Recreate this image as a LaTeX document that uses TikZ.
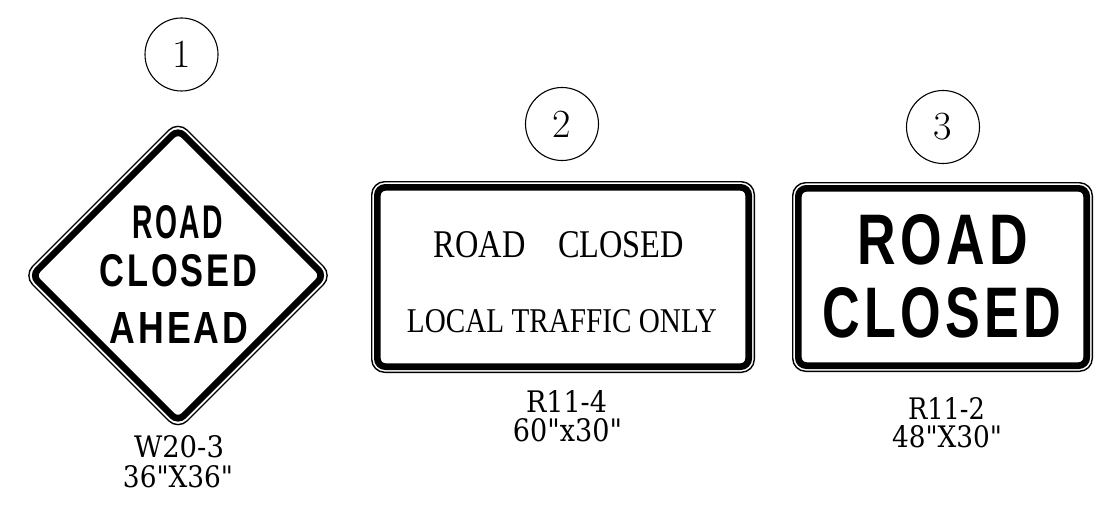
\documentclass[tikz,border=0pt]{standalone}
\usepackage{fontspec}
\usepackage{graphicx}
\newfontfamily\hwy{Liberation Sans}[LetterSpace=8]
\newfontfamily\tms{Liberation Serif}
\newfontfamily\lbl{DejaVu Serif}
\newcommand\fitto[3]{\resizebox{#1pt}{#2pt}{#3}}
\begin{document}
\begin{tikzpicture}[x=1pt,y=-1pt,
  num/.style={circle,draw,line width=1.1pt,minimum size=73pt,inner sep=0pt,font=\fontsize{40}{40}\selectfont},
  txt/.style={inner sep=0pt,anchor=center},
  edgeline/.style={line width=1.4pt},
  band/.style={line width=6.7pt}]
\useasboundingbox (0,0) rectangle (1110,508);
\fill[white] (0,0) rectangle (1110,508);

% ---- numbered circles
\node[num] (c1) at (181.5,54.5) {1};
\node[num] (c2) at (562,124) {2};
\node[num] (c3) at (943,127) {3};

% ---- sign 1: diamond W20-3
\draw[edgeline, rounded corners=13pt] (100.75,198.25) -- (178,121) -- (332.5,275.5) -- (178,430) -- (23.5,275.5) -- cycle;
\draw[band, rounded corners=8pt] (105,202.5) -- (178,129.5) -- (324,275.5) -- (178,421.5) -- (32,275.5) -- cycle;
\node[txt] (s1a) at (178,222.5) {\fitto{90}{33}{\hwy\bfseries ROAD}};
\node[txt] (s1b) at (178.5,271) {\fitto{157}{32}{\hwy\bfseries CLOSED}};
\node[txt] (s1c) at (179,327.5) {\fitto{138}{31}{\hwy\bfseries AHEAD}};
\node[txt] (l1a) at (179,446.5) {\fitto{90}{22}{\lbl W20-3}};
\node[txt] (l1b) at (178,477) {\fitto{110}{22}{\lbl 36"X36"}};

% ---- sign 2: R11-4
\draw[edgeline, rounded corners=13pt] (371.7,181.7) rectangle (754.3,372.3);
\draw[band, rounded corners=8pt] (377.35,187.35) rectangle (748.65,366.65);
\node[txt] (s2a) at (559,245) {\fitto{250}{26}{\tms ROAD\hspace{1em}CLOSED}};
\node[txt] (s2b) at (562,321.5) {\fitto{310}{23}{\tms LOCAL TRAFFIC ONLY}};
\node[txt] (l2a) at (566.5,401) {\fitto{81}{22}{\lbl R11-4}};
\node[txt] (l2b) at (567.5,430) {\fitto{109}{23}{\lbl 60"x30"}};

% ---- sign 3: R11-2
\draw[edgeline, rounded corners=13pt] (792.7,182.7) rectangle (1092.3,371.3);
\draw[band, rounded corners=8pt] (798.35,188.35) rectangle (1086.65,365.65);
\node[txt] (s3a) at (943,240) {\fitto{170}{50}{\hwy\bfseries ROAD}};
\node[txt] (s3b) at (942,313) {\fitto{238}{50}{\hwy\bfseries CLOSED}};
\node[txt] (l3a) at (946.5,408) {\fitto{77}{22}{\lbl R11-2}};
\node[txt] (l3b) at (947,436.5) {\fitto{110}{22}{\lbl 48"X30"}};
\end{tikzpicture}
\end{document}
